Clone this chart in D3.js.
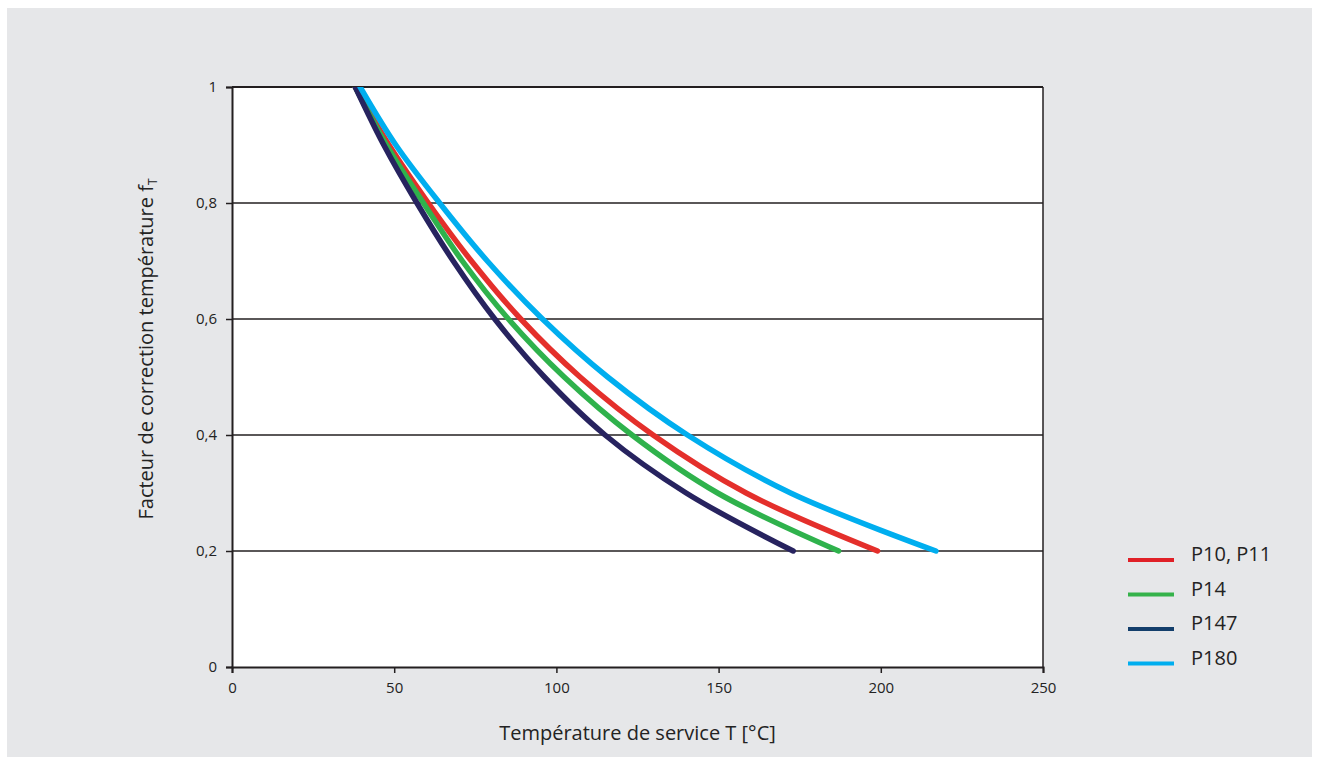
<!DOCTYPE html>
<html>
<head>
<meta charset="utf-8">
<script src="https://cdn.jsdelivr.net/npm/d3@7"></script>
<style>
  html, body { margin: 0; padding: 0; background: #ffffff; }
  svg { display: block; }
  text { font-family: "Open Sans", "Noto Sans", sans-serif; fill: #232323; }
</style>
</head>
<body>
<svg id="chart" width="1319" height="765"></svg>
<script>
// Temperature correction factor f_T against service temperature, per material
const seriesNames = ["P10, P11", "P14", "P147", "P180"];
const seriesColors = ["#e42f2b", "#2fb24c", "#27235f", "#00aeef"];
const legendColors = ["#e02027", "#35b24a", "#133e6b", "#00aeef"];

// Sampled points: service temperature (°C) at which each factor level is reached
const factorLevels = [1, 0.9, 0.8, 0.7, 0.6, 0.5, 0.4, 0.3, 0.2];
const tempP10P11 = [38, 48.4, 60.5, 73.8, 89.0, 107.3, 129.8, 158.5, 199];
const tempP14    = [38, 47.6, 59.0, 71.0, 85.2, 102.4, 123.3, 149.7, 187];
const tempP147   = [38, 46.8, 57.0, 68.2, 81.0, 96.3, 115.0, 140.0, 173];
const tempP180   = [39.5, 50.5, 64.0, 78.7, 95.7, 115.8, 140.4, 172.2, 217];
const seriesTemps = [tempP10P11, tempP14, tempP147, tempP180];

const xTicks = [0, 50, 100, 150, 200, 250];
const yTicks = [0, 0.2, 0.4, 0.6, 0.8, 1];
const yTickLabels = ["0", "0,2", "0,4", "0,6", "0,8", "1"];

const svg = d3.select("#chart");

// panel background
svg.append("rect").attr("x", 7).attr("y", 8).attr("width", 1305).attr("height", 749)
  .attr("fill", "#e6e7e9");

const plot = { left: 232, top: 87, right: 1043, bottom: 667 };
const x = d3.scaleLinear().domain([0, 250]).range([plot.left, plot.right]);
const y = d3.scaleLinear().domain([0, 1]).range([plot.bottom, plot.top]);

svg.append("rect")
  .attr("x", plot.left).attr("y", plot.top)
  .attr("width", plot.right - plot.left).attr("height", plot.bottom - plot.top)
  .attr("fill", "#ffffff");

svg.append("defs").append("clipPath").attr("id", "plot-clip")
  .append("rect")
  .attr("x", plot.left).attr("y", plot.top)
  .attr("width", plot.right - plot.left + 20).attr("height", plot.bottom - plot.top);

// horizontal gridlines
svg.append("g").selectAll("line").data(yTicks.filter(v => v > 0 && v < 1)).join("line")
  .attr("x1", plot.left).attr("x2", plot.right)
  .attr("y1", d => y(d)).attr("y2", d => y(d))
  .attr("stroke", "#231f20").attr("stroke-width", 1.4);

// frame: top and right border
svg.append("line").attr("x1", plot.left).attr("x2", plot.right)
  .attr("y1", plot.top).attr("y2", plot.top)
  .attr("stroke", "#231f20").attr("stroke-width", 2);
svg.append("line").attr("x1", plot.right).attr("x2", plot.right)
  .attr("y1", plot.top).attr("y2", plot.bottom)
  .attr("stroke", "#231f20").attr("stroke-width", 1.5);

// axes
const xAxis = d3.axisBottom(x).tickValues(xTicks).tickSize(6).tickPadding(6)
  .tickFormat(d3.format("d"));
const yAxis = d3.axisLeft(y).tickValues(yTicks).tickSize(6).tickPadding(9)
  .tickFormat((d, i) => yTickLabels[i]);

const gx = svg.append("g").attr("transform", `translate(0,${plot.bottom})`).call(xAxis);
const gy = svg.append("g").attr("transform", `translate(${plot.left},0)`).call(yAxis);
[gx, gy].forEach(g => {
  g.select(".domain").attr("stroke", "#231f20").attr("stroke-width", 2);
  g.selectAll(".tick line").attr("stroke", "#231f20").attr("stroke-width", 1.5);
  g.selectAll(".tick text").attr("font-size", 15).attr("fill", "#232323")
    .attr("font-family", "'Open Sans', sans-serif");
});
gx.selectAll(".tick text").attr("dy", "0.9em");

// curves
const line = d3.line()
  .x(d => x(d[0])).y(d => y(d[1]))
  .curve(d3.curveCatmullRom.alpha(0.5));

const curves = svg.append("g").attr("clip-path", "url(#plot-clip)");
seriesTemps.forEach((temps, i) => {
  const pts = temps.map((t, k) => [t, factorLevels[k]]);
  curves.append("path")
    .attr("d", line(pts))
    .attr("fill", "none")
    .attr("stroke", seriesColors[i])
    .attr("stroke-width", 5.5)
    .attr("stroke-linecap", "round");
});

// legend
const legend = svg.append("g");
seriesNames.forEach((name, i) => {
  const ly = 560 + i * 34.5;
  legend.append("line")
    .attr("x1", 1128).attr("x2", 1174).attr("y1", ly).attr("y2", ly)
    .attr("stroke", legendColors[i]).attr("stroke-width", 4);
  legend.append("text")
    .attr("x", 1191).attr("y", ly + 1)
    .attr("font-size", 20)
    .text(name);
});

// axis titles
svg.append("text")
  .attr("x", (plot.left + plot.right) / 2).attr("y", 740)
  .attr("text-anchor", "middle").attr("font-size", 20)
  .text("Température de service T [°C]");

const yTitle = svg.append("text")
  .attr("transform", `translate(153,${(plot.top + plot.bottom) / 2 - 28}) rotate(-90)`)
  .attr("text-anchor", "middle").attr("font-size", 20);
yTitle.append("tspan").text("Facteur de correction température f");
yTitle.append("tspan").attr("font-size", 12).attr("dy", 4).text("T");
</script>
</body>
</html>
